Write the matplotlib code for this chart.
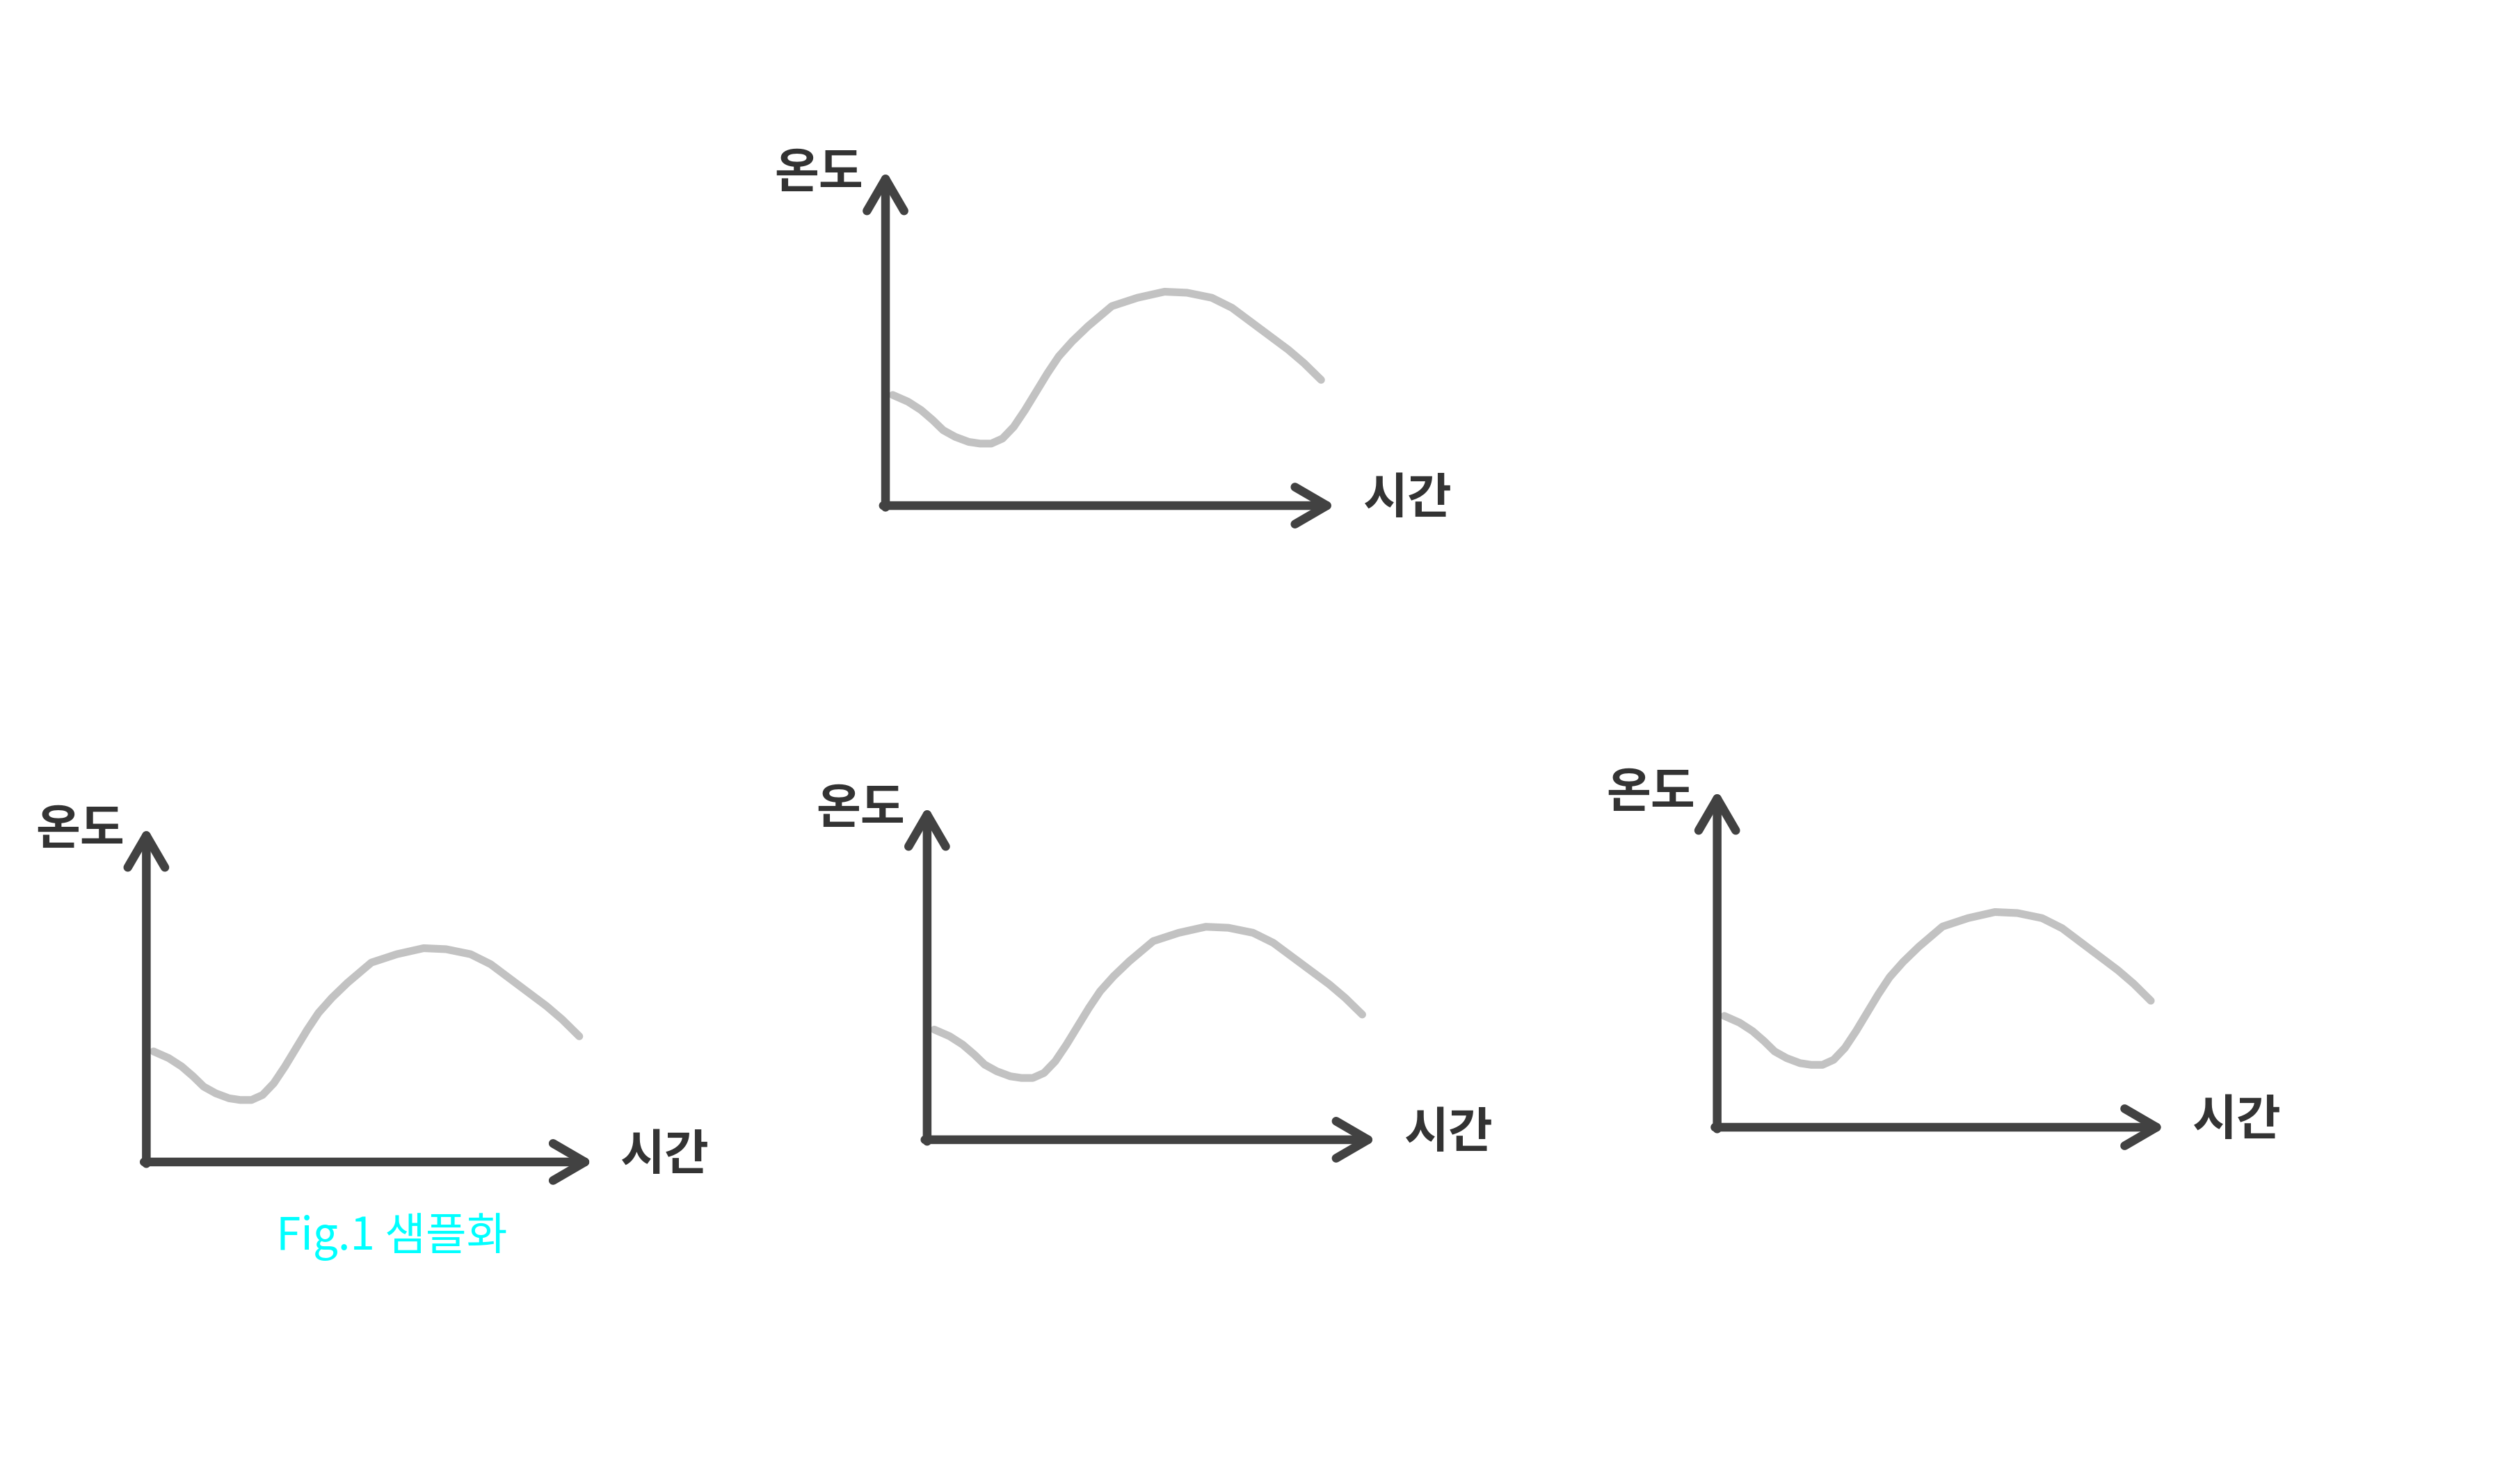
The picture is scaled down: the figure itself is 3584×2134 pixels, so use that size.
import matplotlib
matplotlib.use("Agg")
import matplotlib.pyplot as plt

plt.rcParams['font.family'] = ['Noto Sans CJK KR', 'DejaVu Sans']

# ---- data (time and temperature in % of axis length) ----
time = [1.6, 5.0, 7.9, 10.5, 12.8, 15.5, 18.5, 21.0, 23.5, 26.0, 28.5, 31.0, 33.5,
        36.0, 38.5, 41.5, 45.0, 50.3, 56.0, 62.0, 67.0, 72.5, 77.0, 82.0, 86.0,
        89.5, 93.0, 96.8]
temp = [33.0, 31.0, 28.5, 25.5, 22.5, 20.5, 19.0, 18.5, 18.5, 20.0, 23.5, 28.5, 34.0,
        39.5, 44.5, 49.0, 53.5, 59.5, 62.0, 63.8, 63.5, 62.0, 59.0, 54.0, 50.0,
        46.5, 42.5, 37.5]
y_label = "온도"
x_label = "시간"
caption = "Fig.1 샘플화"

# panel rectangles (figure fractions: left, bottom, width, height)
panels = [
    [0.3552, 0.6593, 0.1805, 0.2259],
    [0.0587, 0.2170, 0.1794, 0.2258],
    [0.3719, 0.2320, 0.1803, 0.2249],
    [0.6888, 0.2404, 0.1797, 0.2273],
]

AXIS_COLOR = "#424242"
CURVE_COLOR = "#c2c2c2"

fig = plt.figure(figsize=(35.84, 21.34), dpi=100)
fig.patch.set_facecolor("white")

for i, rect in enumerate(panels):
    ax = fig.add_axes(rect)
    ax.set_xlim(0, 100)
    ax.set_ylim(0, 100)
    ax.axis("off")
    # curve
    ax.plot(time, temp, color=CURVE_COLOR, lw=8, solid_capstyle="round",
            solid_joinstyle="round", zorder=2)
    # axes arrows
    arrow = dict(arrowstyle="->,head_length=0.55,head_width=0.32", lw=9,
                 color=AXIS_COLOR, capstyle="round", joinstyle="round",
                 shrinkA=0, shrinkB=0, mutation_scale=60)
    ax.annotate("", xy=(1.0, 0.0), xytext=(-0.005, 0.0), xycoords="axes fraction",
                arrowprops=arrow, zorder=3, annotation_clip=False)
    ax.annotate("", xy=(0.0, 1.0), xytext=(0.0, -0.005), xycoords="axes fraction",
                arrowprops=arrow, zorder=3, annotation_clip=False)
    # labels
    ax.text(-0.148, 0.99, y_label, transform=ax.transAxes, ha="center", va="center",
            fontsize=50, fontweight="bold", color="#333333")
    ax.text(1.16, 0.02, x_label, transform=ax.transAxes, ha="center", va="center",
            fontsize=50, fontweight="bold", color="#333333")
    if i == 1:
        ax.text(0.548, -0.223, caption, transform=ax.transAxes, ha="center",
                va="center", fontsize=46, color="#00ffff")

fig.savefig("out.png", dpi=100, facecolor="white")
